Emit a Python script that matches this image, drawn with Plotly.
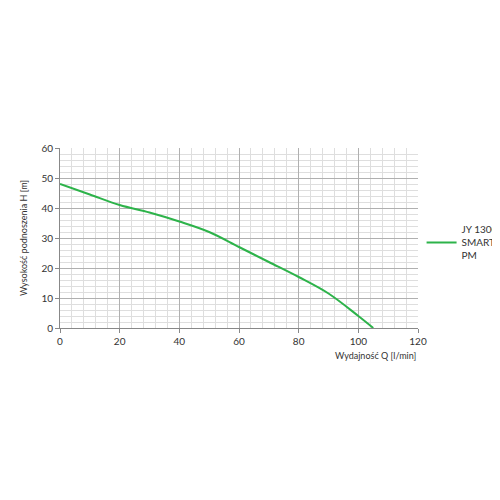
import plotly.graph_objects as go

q = [0, 10, 20, 30, 40, 50, 60, 70, 80, 90, 100, 105]
h = [48, 44.5, 41, 38.5, 35.5, 32, 27, 22, 17, 11.5, 4, 0]
name = "JY 1300<br>SMART<br>PM"

fig = go.Figure(go.Scatter(x=q, y=h, mode="lines", name=name, line=dict(color="#2db34a", width=2, shape="spline")))
grid = dict(showgrid=True, gridcolor="#b0b0b0", gridwidth=1, zeroline=False, automargin=False,
            showline=True, linecolor="#888", ticks="outside", tickcolor="#888", ticklen=4,
            tickfont=dict(size=10, color="#333"))
fig.update_xaxes(range=[0, 120], dtick=20, minor=dict(dtick=4, showgrid=True, gridcolor="#dedede"), **grid)
fig.update_yaxes(range=[0, 60], dtick=10, minor=dict(dtick=2, showgrid=True, gridcolor="#dedede"),
                 title=dict(text="Wysokość podnoszenia H [m]", font=dict(size=9, color="#333"), standoff=12), **grid)
fig.add_annotation(text="Wydajność Q [l/min]", xref="paper", yref="paper", x=1, y=-0.11,
                   xanchor="right", yanchor="top", showarrow=False, font=dict(size=9, color="#333"))
fig.update_layout(width=500, height=500, plot_bgcolor="white", paper_bgcolor="white",
                  font=dict(family="Lato, sans-serif"),
                  margin=dict(l=52, r=90, t=140, b=180, autoexpand=False), showlegend=True,
                  legend=dict(x=1.01, y=0.62, yanchor="top", font=dict(size=10, color="#333")))
fig.write_html("out.html")
